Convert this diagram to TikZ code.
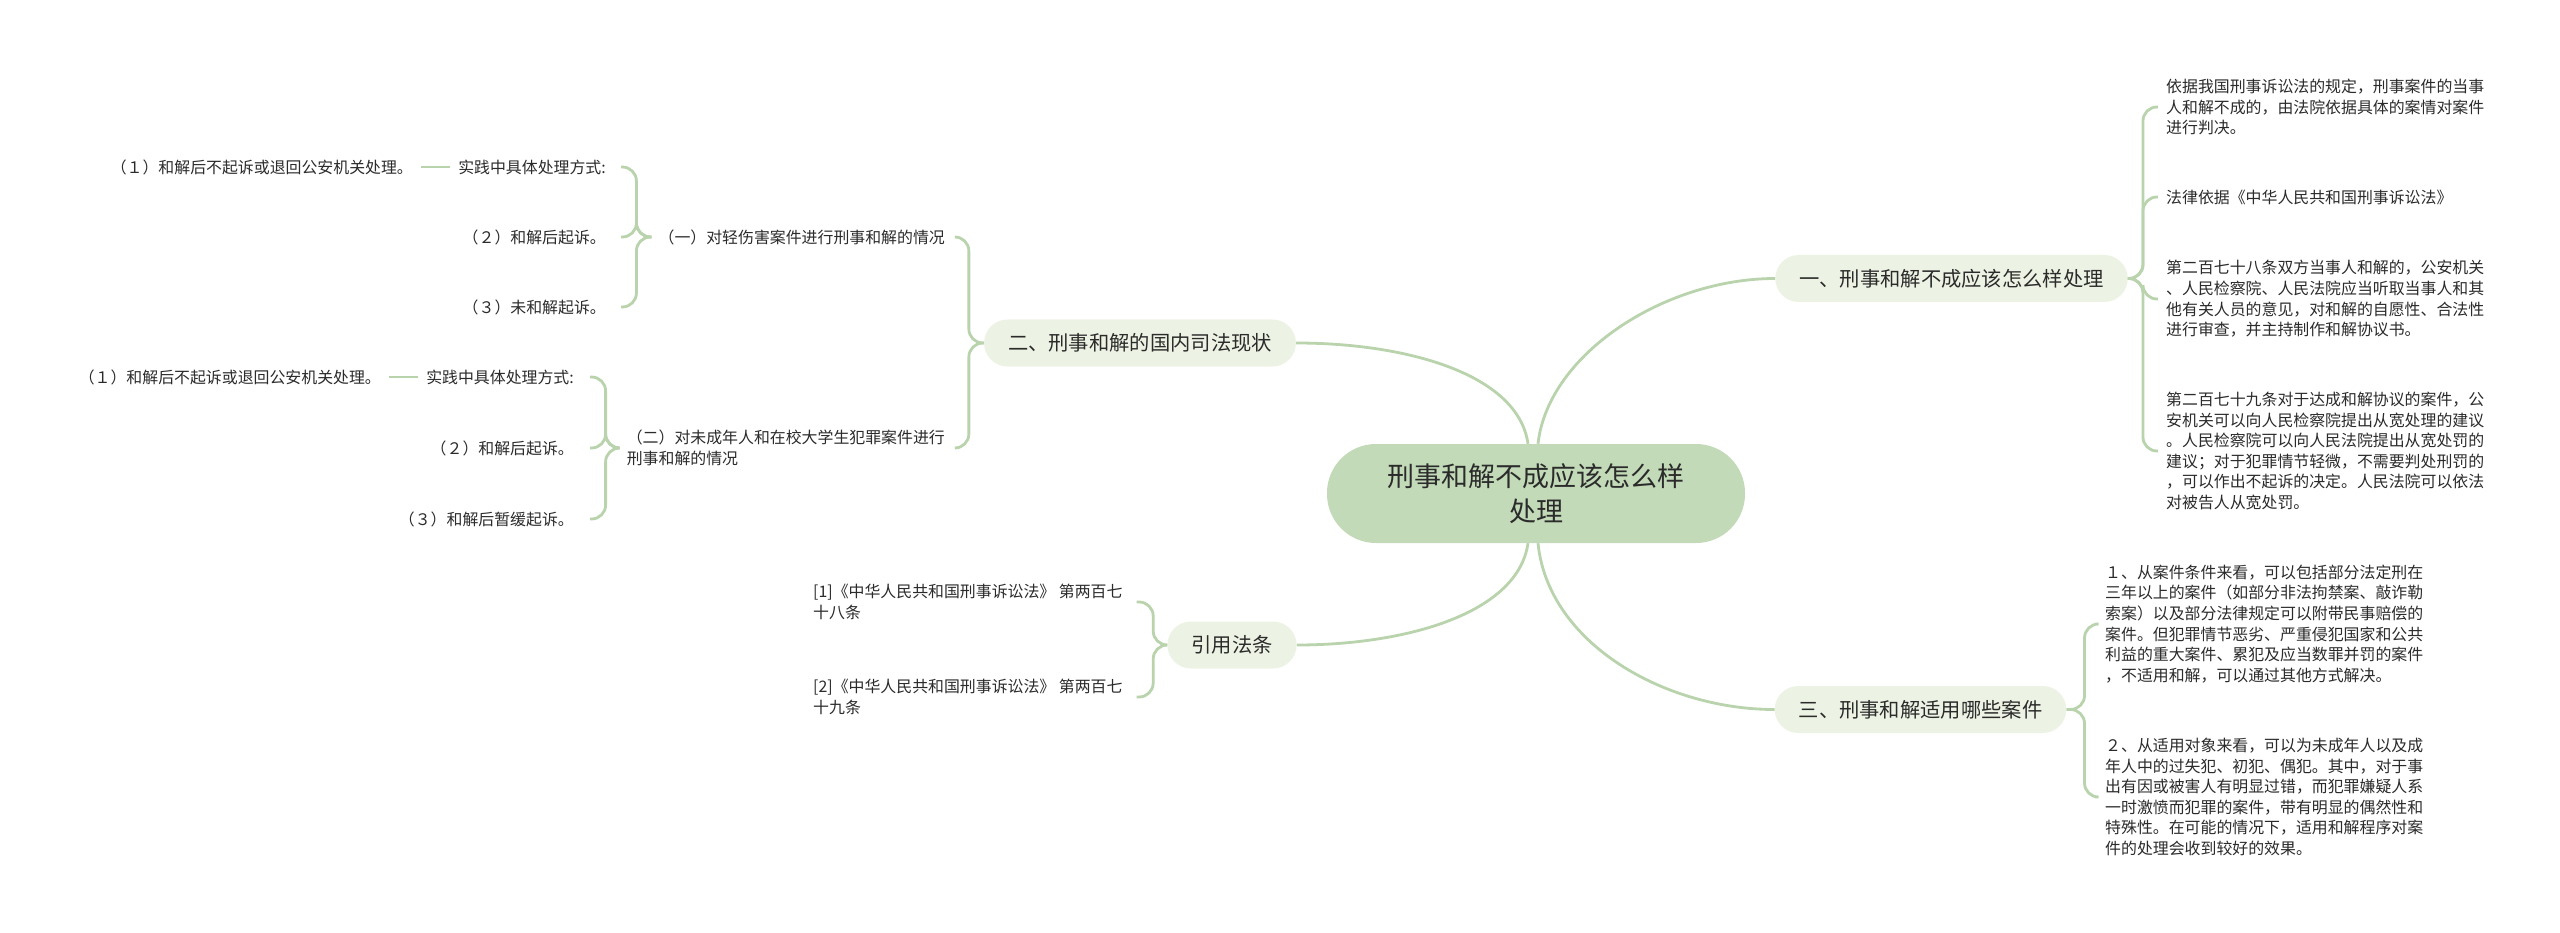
\documentclass[tikz,border=0pt]{standalone}
\usepackage{fontspec}
\usepackage{xcolor}
\usepackage{tikz}
\usetikzlibrary{positioning}
\newfontfamily\cjk{Noto Sans CJK SC}
\definecolor{rootgreen}{HTML}{C2DAB8}
\definecolor{topicgreen}{HTML}{EDF3E4}
\definecolor{linkgreen}{HTML}{B9D3AD}
\definecolor{inkgray}{HTML}{2B2B2B}
\tikzset{
  rootbox/.style={fill=rootgreen, rounded corners=49pt, minimum width=418pt, minimum height=99pt, align=center, text=inkgray, font=\cjk\fontsize{27}{35}\selectfont},
  topicbox/.style={fill=topicgreen, rounded corners=23.5pt, minimum height=47pt, inner xsep=24pt, inner ysep=0pt, text=inkgray, font=\cjk\fontsize{20.3}{24}\selectfont},
  leaftext/.style={inner sep=0pt, align=left, text=inkgray, font=\cjk\fontsize{15.9}{20.6}\selectfont},
  linkline/.style={draw=linkgreen, line width=2.8pt},
  branchline/.style={linkline, rounded corners=14pt}
}

\begin{document}
\begin{tikzpicture}[x=1pt, y=-1pt]
  \fill[white] (0,0) rectangle (2560,933);
  \useasboundingbox (0,0) rectangle (2560,933);

  % centre and main topics
  \node[rootbox] (root) at (1536,493.5) {刑事和解不成应该怎么样\\处理};
  \node[topicbox] (yi) at (1951.5,278.5) {一、刑事和解不成应该怎么样处理};
  \node[topicbox] (er) at (1140,343) {二、刑事和解的国内司法现状};
  \node[topicbox] (sn) at (1920.5,709.5) {三、刑事和解适用哪些案件};
  \node[topicbox] (yf) at (1232,645) {引用法条};

  % topic one
  \node[leaftext, anchor=west] (ya) at (2166,107) {依据我国刑事诉讼法的规定，刑事案件的当事\\人和解不成的，由法院依据具体的案情对案件\\进行判决。};
  \node[leaftext, anchor=west] (yb) at (2166,197) {法律依据《中华人民共和国刑事诉讼法》};
  \node[leaftext, anchor=west] (yc) at (2166,299) {第二百七十八条双方当事人和解的，公安机关\\、人民检察院、人民法院应当听取当事人和其\\他有关人员的意见，对和解的自愿性、合法性\\进行审查，并主持制作和解协议书。};
  \node[leaftext, anchor=west] (yd) at (2166,451) {第二百七十九条对于达成和解协议的案件，公\\安机关可以向人民检察院提出从宽处理的建议\\。人民检察院可以向人民法院提出从宽处罚的\\建议；对于犯罪情节轻微，不需要判处刑罚的\\，可以作出不起诉的决定。人民法院可以依法\\对被告人从宽处罚。};

  % topic three
  \node[leaftext, anchor=west] (sa) at (2105,624) {１、从案件条件来看，可以包括部分法定刑在\\三年以上的案件（如部分非法拘禁案、敲诈勒\\索案）以及部分法律规定可以附带民事赔偿的\\案件。但犯罪情节恶劣、严重侵犯国家和公共\\利益的重大案件、累犯及应当数罪并罚的案件\\，不适用和解，可以通过其他方式解决。};
  \node[leaftext, anchor=west] (sb) at (2105,797) {２、从适用对象来看，可以为未成年人以及成\\年人中的过失犯、初犯、偶犯。其中，对于事\\出有因或被害人有明显过错，而犯罪嫌疑人系\\一时激愤而犯罪的案件，带有明显的偶然性和\\特殊性。在可能的情况下，适用和解程序对案\\件的处理会收到较好的效果。};

  % topic two
  \node[leaftext, anchor=east] (e1) at (945,237) {（一）对轻伤害案件进行刑事和解的情况};
  \node[leaftext, anchor=east] (e2) at (945,448) {（二）对未成年人和在校大学生犯罪案件进行\\刑事和解的情况};
  \node[leaftext, anchor=east] (f1) at (606,167) {实践中具体处理方式:};
  \node[leaftext, anchor=east] (f2) at (606,237) {（２）和解后起诉。};
  \node[leaftext, anchor=east] (f3) at (606,307) {（３）未和解起诉。};
  \node[leaftext, left=45pt of f1] (g1) {（１）和解后不起诉或退回公安机关处理。};
  \node[leaftext, anchor=east] (h1) at (574,377) {实践中具体处理方式:};
  \node[leaftext, anchor=east] (h2) at (574,448) {（２）和解后起诉。};
  \node[leaftext, anchor=east] (h3) at (574,519) {（３）和解后暂缓起诉。};
  \node[leaftext, left=45pt of h1] (k1) {（１）和解后不起诉或退回公安机关处理。};

  % references
  \node[leaftext, anchor=west] (r1) at (813,602) {[1]《中华人民共和国刑事诉讼法》 第两百七\\十八条};
  \node[leaftext, anchor=west] (r2) at (813,697) {[2]《中华人民共和国刑事诉讼法》 第两百七\\十九条};

  % links from the centre
  \draw[linkline] ([xshift=-8pt]root.north) .. controls +(-10,-70) and +(110,0) .. (er.east);
  \draw[linkline] ([xshift=2pt]root.north) .. controls +(10,-90) and +(-110,0) .. (yi.west);
  \draw[linkline] ([xshift=-8pt]root.south) .. controls +(-10,70) and +(110,0) .. (yf.east);
  \draw[linkline] ([xshift=2pt]root.south) .. controls +(10,100) and +(-110,0) .. (sn.west);

  % brackets
  \foreach \leaf in {ya,yb,yc,yd}
    \draw[branchline] (yi.east) -- ++(15,0) |- ([xshift=-8pt]\leaf.west);
  \foreach \leaf in {sa,sb}
    \draw[branchline] (sn.east) -- ++(18,0) |- ([xshift=-10pt]\leaf.west);
  \foreach \leaf in {e1,e2}
    \draw[branchline] (er.west) -- ++(-15,0) |- ([xshift=10pt]\leaf.east);
  \foreach \leaf in {f1,f2,f3}
    \draw[branchline] ([xshift=-7pt]e1.west) -- ++(-15,0) |- ([xshift=15pt]\leaf.east);
  \foreach \leaf in {h1,h2,h3}
    \draw[branchline] ([xshift=-7pt]e2.west) -- ++(-14,0) |- ([xshift=16pt]\leaf.east);
  \foreach \leaf in {r1,r2}
    \draw[branchline] (yf.west) -- ++(-14,0) |- ([xshift=14pt]\leaf.east);
  \draw[linkline] ([xshift=-8pt]f1.west) -- ([xshift=8pt]g1.east);
  \draw[linkline] ([xshift=-8pt]h1.west) -- ([xshift=8pt]k1.east);
\end{tikzpicture}
\end{document}
